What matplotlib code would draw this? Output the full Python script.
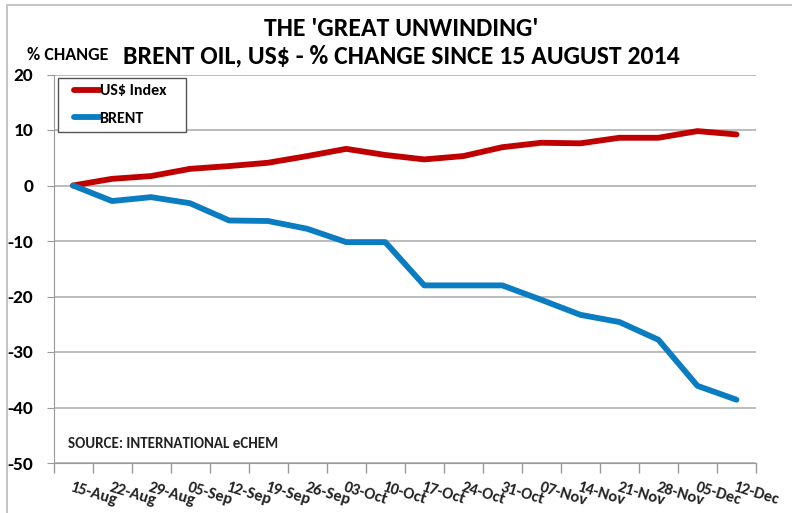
import matplotlib.pyplot as plt
from matplotlib import font_manager
from matplotlib.patches import Rectangle

# Weekly dates since 15 August 2014
dates = ["15-Aug", "22-Aug", "29-Aug", "05-Sep", "12-Sep", "19-Sep", "26-Sep",
         "03-Oct", "10-Oct", "17-Oct", "24-Oct", "31-Oct", "07-Nov", "14-Nov",
         "21-Nov", "28-Nov", "05-Dec", "12-Dec"]

# % change since 15 August 2014
usd_index = [0, 1.2, 1.7, 3.0, 3.5, 4.1, 5.3, 6.6, 5.5, 4.7,
             5.3, 6.9, 7.7, 7.6, 8.6, 8.6, 9.8, 9.2]
brent = [0, -2.8, -2.1, -3.2, -6.3, -6.4, -7.8, -10.2, -10.2, -18.0,
         -18.0, -18.0, -20.6, -23.3, -24.6, -27.8, -36.1, -38.6]

y_ticks = [20, 10, 0, -10, -20, -30, -40, -50]

# Calibri look-alike if present
installed = set(f.name for f in font_manager.fontManager.ttflist)
font = "Carlito" if "Carlito" in installed else "Open Sans"
plt.rcParams['font.family'] = [font, 'DejaVu Sans']
plt.rcParams['font.weight'] = 'bold'

W, H = 792, 513
fig = plt.figure(figsize=(W / 100, H / 100), dpi=100)
ax = fig.add_axes([53.5 / W, 1 - 463 / H, (756 - 53.5) / W, (463 - 74.5) / H])

x = list(range(len(dates)))
ax.plot(x, usd_index, color="#C00000", linewidth=4.2, solid_capstyle="round",
        solid_joinstyle="round", label="US$ Index", zorder=3)
ax.plot(x, brent, color="#0A7CC1", linewidth=4.2, solid_capstyle="round",
        solid_joinstyle="round", label="BRENT", zorder=3)

ax.set_xlim(-0.5, len(dates) - 0.5)
ax.set_ylim(-50, 20)
ax.set_yticks(y_ticks)
ax.set_yticklabels([str(v) for v in y_ticks], fontsize=14, fontweight="bold")
ax.yaxis.grid(True, color="#AAAAAA", linewidth=1.1)
ax.set_axisbelow(True)

# category axis: ticks between categories, labels at centres
ax.set_xticks([i - 0.5 for i in range(len(dates) + 1)])
ax.set_xticklabels([])
ax.set_xticks(x, minor=True)
ax.set_xticklabels(dates, minor=True, rotation=-17, ha="left", va="top",
                   rotation_mode="anchor", fontsize=11.8, fontweight="bold",
                   color="#222222")
ax.tick_params(axis="x", which="major", direction="out", length=7,
               color="#999999", width=1)
ax.tick_params(axis="x", which="minor", length=0, pad=12.5)
ax.tick_params(axis="y", direction="out", length=5, color="#999999", pad=9.5)

for side in ["top", "right"]:
    ax.spines[side].set_visible(False)
ax.spines["left"].set_color("#999999")
ax.spines["bottom"].set_color("#999999")

# legend box drawn separately so the padding matches
fig.patches.append(Rectangle((58 / W, 1 - 132 / H), 128 / W, 54 / H,
                             transform=fig.transFigure, facecolor="white",
                             edgecolor="#555555", linewidth=1.0, zorder=2))
fig.legend(*ax.get_legend_handles_labels(), loc="upper left",
           bbox_to_anchor=(74 / W, 1 - 84 / H), fontsize=11.5, frameon=False,
           handlelength=1.6, handletextpad=0.0, borderpad=0.0,
           labelspacing=0.85, borderaxespad=0.0)

ax.text(0.02, 0.05, "SOURCE: INTERNATIONAL eCHEM", transform=ax.transAxes,
        fontsize=10.8, fontweight="bold", color="#222222", va="center")

fig.text(401.5 / W, 1 - 36 / H, "THE 'GREAT UNWINDING'", ha="center",
         va="baseline", fontsize=18.5, fontweight="bold")
fig.text(401 / W, 1 - 63 / H, "BRENT OIL, US$ - % CHANGE SINCE 15 AUGUST 2014",
         ha="center", va="baseline", fontsize=18.5, fontweight="bold")
fig.text(67.5 / W, 1 - 60 / H, "% CHANGE", ha="center", va="baseline",
         fontsize=13, fontweight="bold")

# chart area border
fig.patches.append(Rectangle((7 / W, -0.1), 1.2, 1 - 5 / H + 0.1,
                             transform=fig.transFigure, fill=False,
                             edgecolor="#BBBBBB", linewidth=1.2))

fig.savefig("out.png", dpi=100)
